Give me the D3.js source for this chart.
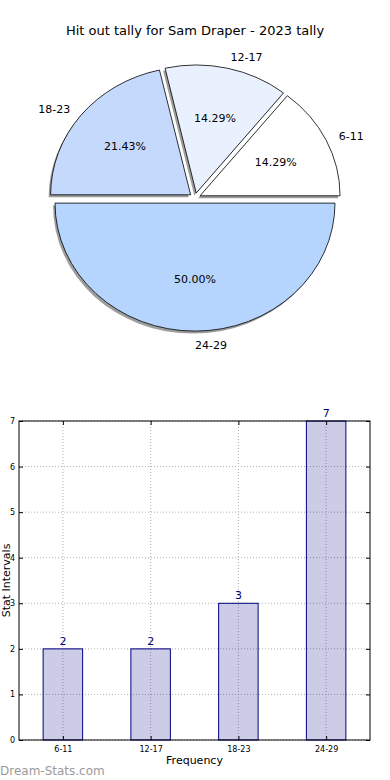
<!DOCTYPE html>
<html>
<head>
<meta charset="utf-8">
<script src="https://cdn.jsdelivr.net/npm/d3@7"></script>
<style>
  body { margin: 0; background: #fff; }
  svg { display: block; font-family: "DejaVu Sans", sans-serif; }
</style>
</head>
<body>
<div id="chart"></div>
<script>
// data
var cats = ["6-11", "12-17", "18-23", "24-29"];
var counts = [2, 2, 3, 7];
var pieColors = ["#ffffff", "#eaf1fe", "#c5d9fd", "#b5d5fe"];
var yTicks = [0, 1, 2, 3, 4, 5, 6, 7];

var W = 390, H = 780;
var svg = d3.select('#chart').append('svg')
    .attr('width', W)
    .attr('height', H)

// title
svg.append('text')
    .attr('x', 195).attr('y', 35)
    .attr('text-anchor', 'middle')
    .attr('font-size', 13)
    .text('Hit out tally for Sam Draper - 2023 tally')

// ---- pie ----
var cx = 195, cy = 198, rx = 140, ry = 128;
var sy = ry / rx;
var explode = 0.04;
var total = d3.sum(counts);

// matplotlib starts at east and goes counter clockwise
var pie = d3.pie().sort(null)
    .startAngle(Math.PI / 2)
    .endAngle(Math.PI / 2 - 2 * Math.PI);
var arcs = pie(counts);
var arc = d3.arc().innerRadius(0).outerRadius(rx);

var pieG = svg.append('g')
    .attr('transform', 'translate(' + cx + ',' + cy + ') scale(1,' + sy + ')')

arcs.forEach(function (d, i) {
    var mid = (d.startAngle + d.endAngle) / 2;
    var ox = Math.sin(mid) * explode * rx;
    var oy = -Math.cos(mid) * explode * rx;
    var g = pieG.append('g').attr('transform', 'translate(' + ox + ',' + oy + ')')
    // shadow
    g.append('path')
        .attr('d', arc(d))
        .attr('transform', 'translate(-2,' + (2.5 / sy) + ')')
        .attr('fill', '#8c8c8c')
        .attr('opacity', 0.85)
    g.append('path')
        .attr('d', arc(d))
        .attr('fill', pieColors[i])
        .attr('stroke', '#000')
        .attr('stroke-width', 0.8)
        .attr('vector-effect', 'non-scaling-stroke')
})

// labels (drawn unscaled)
arcs.forEach(function (d, i) {
    var mid = (d.startAngle + d.endAngle) / 2;
    var dx = Math.sin(mid), dy = -Math.cos(mid);
    var ex = cx + dx * explode * rx, ey = cy + dy * explode * ry;
    // category label
    svg.append('text')
        .attr('x', ex + dx * 1.1 * rx)
        .attr('y', ey + dy * 1.1 * ry + 2)
        .attr('text-anchor', dx >= -1e-9 ? 'start' : 'end')
        .attr('dominant-baseline', 'central')
        .attr('font-size', 11)
        .text(cats[i])
    // percent label
    svg.append('text')
        .attr('x', ex + dx * 0.6 * rx)
        .attr('y', ey + dy * 0.6 * ry)
        .attr('text-anchor', 'middle')
        .attr('dominant-baseline', 'central')
        .attr('font-size', 11)
        .text((counts[i] / total * 100).toFixed(2) + '%')
})

// ---- bar chart ----
var L = 19, R = 370, T = 421, B = 740;
var x = d3.scalePoint().domain(cats).range([L, R]).padding(0.5);
var y = d3.scaleLinear().domain([0, 7]).range([B, T]);
var barW = x.step() * 0.45;

var bar = svg.append('g')

// grid
bar.append('g').selectAll('line.gy')
    .data(yTicks)
    .enter().append('line')
    .attr('x1', L).attr('x2', R)
    .attr('y1', function (d) { return y(d) }).attr('y2', function (d) { return y(d) })
    .attr('stroke', '#b0b0b0').attr('stroke-width', 1)
    .attr('stroke-dasharray', '1,2')
bar.append('g').selectAll('line.gx')
    .data(cats)
    .enter().append('line')
    .attr('x1', function (d) { return x(d) }).attr('x2', function (d) { return x(d) })
    .attr('y1', T).attr('y2', B)
    .attr('stroke', '#b0b0b0').attr('stroke-width', 1)
    .attr('stroke-dasharray', '1,2')

// bars
bar.selectAll('rect.bar')
    .data(counts)
    .enter().append('rect')
    .attr('x', function (d, i) { return x(cats[i]) - barW / 2 })
    .attr('y', function (d) { return y(d) })
    .attr('width', barW)
    .attr('height', function (d) { return y(0) - y(d) })
    .attr('fill', '#000080').attr('fill-opacity', 0.2)
    .attr('stroke', '#000080').attr('stroke-width', 1)

// value labels
bar.selectAll('text.val')
    .data(counts)
    .enter().append('text')
    .attr('x', function (d, i) { return x(cats[i]) })
    .attr('y', function (d) { return y(d) - 4 })
    .attr('text-anchor', 'middle')
    .attr('font-size', 11)
    .attr('fill', '#000080')
    .text(function (d) { return d })

// axes with inward ticks
var yAxis = d3.axisLeft(y).tickValues(yTicks).tickSize(-4).tickPadding(4).tickFormat(d3.format('d'));
var yAxisR = d3.axisRight(y).tickValues(yTicks).tickSize(-4).tickFormat('');
var xAxis = d3.axisBottom(x).tickSize(-4).tickPadding(6);
var xAxisT = d3.axisTop(x).tickSize(-4).tickFormat('');

var gy = bar.append('g').attr('transform', 'translate(' + L + ',0)').call(yAxis)
var gyr = bar.append('g').attr('transform', 'translate(' + R + ',0)').call(yAxisR)
var gx = bar.append('g').attr('transform', 'translate(0,' + B + ')').call(xAxis)
var gxt = bar.append('g').attr('transform', 'translate(0,' + T + ')').call(xAxisT)
;[gy, gyr, gx, gxt].forEach(function (g) {
    g.select('.domain').remove()
    g.selectAll('text').attr('font-size', 8).attr('font-family', '"DejaVu Sans", sans-serif')
})

// frame
bar.append('rect')
    .attr('x', L).attr('y', T)
    .attr('width', R - L).attr('height', B - T)
    .attr('fill', 'none').attr('stroke', '#000').attr('stroke-width', 1)

// axis titles
svg.append('text')
    .attr('x', (L + R) / 2).attr('y', 764)
    .attr('text-anchor', 'middle')
    .attr('font-size', 11)
    .text('Frequency')
svg.append('text')
    .attr('transform', 'translate(10,' + ((T + B) / 2) + ') rotate(-90)')
    .attr('text-anchor', 'middle')
    .attr('font-size', 11)
    .text('Stat Intervals')

// watermark
svg.append('text')
    .attr('x', 0).attr('y', 775)
    .attr('font-size', 12)
    .attr('fill', '#9a9a9a')
    .text('Dream-Stats.com')
</script>
</body>
</html>
